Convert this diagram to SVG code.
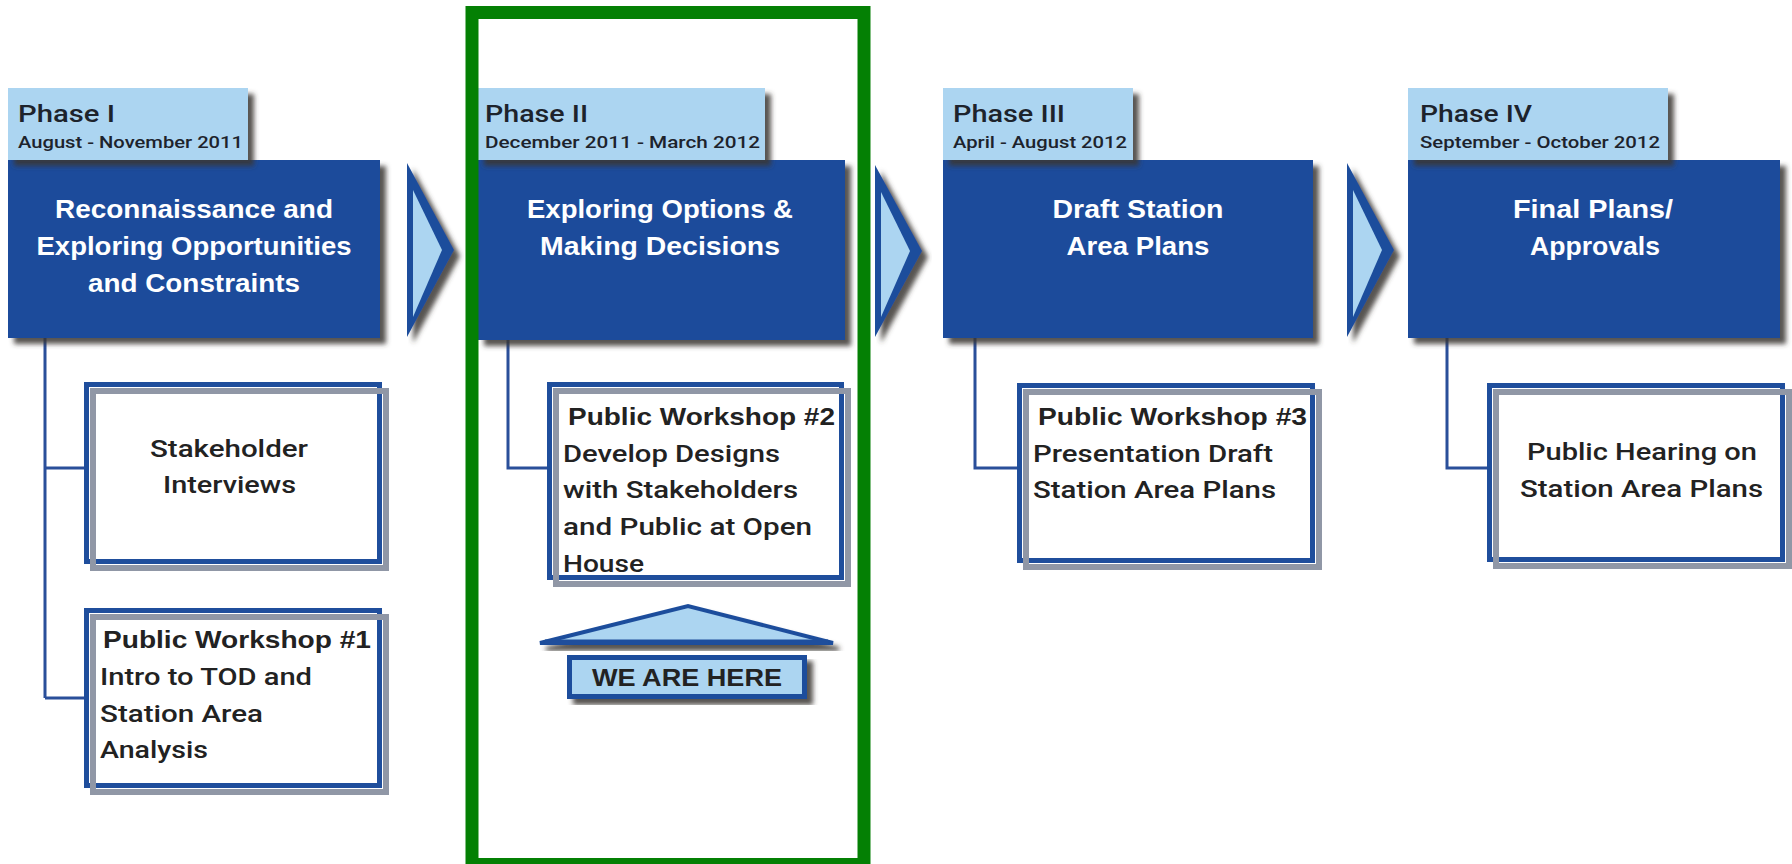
<svg xmlns="http://www.w3.org/2000/svg" width="1792" height="864" viewBox="0 0 1792 864">
<defs>
<filter id="sh" x="-10%" y="-10%" width="130%" height="130%">
<feGaussianBlur in="SourceAlpha" stdDeviation="2.5"/>
<feOffset dx="6" dy="6" result="b"/>
<feFlood flood-color="#3a3632" flood-opacity="0.85"/>
<feComposite in2="b" operator="in"/>
<feMerge><feMergeNode/><feMergeNode in="SourceGraphic"/></feMerge>
</filter>
<style>
.lab{fill:#acd5f1}
.main{fill:#1f4b9b}
.ph{font-family:Roboto,"Liberation Sans",sans-serif;font-weight:500;font-size:23px;fill:#1d232c}
.dt{font-family:Roboto,"Liberation Sans",sans-serif;font-weight:500;font-size:16px;fill:#1d232c}
.tt{font-family:"Liberation Sans",Arial,sans-serif;font-weight:bold;font-size:26px;fill:#ffffff;text-anchor:middle}
.bx{fill:#ffffff;stroke:#1f4e9c;stroke-width:5}
.gs{fill:none;stroke:#9097a6;stroke-width:6}
.st{font-family:Roboto,"Liberation Sans",sans-serif;font-weight:500;font-size:24px;fill:#222222}
.sb{font-family:"Liberation Sans",Arial,sans-serif;font-weight:bold;font-size:24px;fill:#222222}
.chO{fill:#1f4e9c}
.chI{fill:#acd5f1}
.con{fill:none;stroke:#2a4f9a;stroke-width:3}
</style>
</defs>
<rect width="1792" height="864" fill="#ffffff"/>

<g id="connectors">
<path class="con" d="M45,338 V698 M45,468 H86 M45,698 H86"/>
<path class="con" d="M508,340 V468 H549"/>
<path class="con" d="M975,338 V468 H1019"/>
<path class="con" d="M1447,338 V468 H1489"/>
</g>

<g id="phase1">
<rect class="main" x="8" y="160" width="372" height="178" filter="url(#sh)"/>
<rect class="lab" x="8" y="88" width="240" height="72" filter="url(#sh)"/>
<text class="ph" x="18" y="122" textLength="97" lengthAdjust="spacingAndGlyphs">Phase I</text>
<text class="dt" x="18" y="148" textLength="225" lengthAdjust="spacingAndGlyphs">August - November 2011</text>
<text class="tt" x="194" y="218" textLength="278" lengthAdjust="spacingAndGlyphs">Reconnaissance and</text>
<text class="tt" x="194" y="255" textLength="315" lengthAdjust="spacingAndGlyphs">Exploring Opportunities</text>
<text class="tt" x="194" y="292" textLength="212" lengthAdjust="spacingAndGlyphs">and Constraints</text>
</g>

<g id="arrow1">
<polygon class="chO" points="407,163 454,250 407,337" filter="url(#sh)"/>
<polygon class="chI" points="413,190 442,250 413,317"/>
</g>

<g id="phase2">
<rect class="main" x="478" y="160" width="367" height="180" filter="url(#sh)"/>
<rect class="lab" x="478" y="88" width="287" height="72" filter="url(#sh)"/>
<text class="ph" x="485" y="122" textLength="103" lengthAdjust="spacingAndGlyphs">Phase II</text>
<text class="dt" x="485" y="148" textLength="275" lengthAdjust="spacingAndGlyphs">December 2011 - March 2012</text>
<text class="tt" x="660" y="218" textLength="266" lengthAdjust="spacingAndGlyphs">Exploring Options &amp;</text>
<text class="tt" x="660" y="255" textLength="240" lengthAdjust="spacingAndGlyphs">Making Decisions</text>
</g>

<g id="arrow2">
<polygon class="chO" points="875,165 922,251 875,337" filter="url(#sh)"/>
<polygon class="chI" points="881,192 910,251 881,317"/>
</g>

<g id="phase3">
<rect class="main" x="943" y="160" width="370" height="178" filter="url(#sh)"/>
<rect class="lab" x="943" y="88" width="190" height="72" filter="url(#sh)"/>
<text class="ph" x="953" y="122" textLength="112" lengthAdjust="spacingAndGlyphs">Phase III</text>
<text class="dt" x="953" y="148" textLength="174" lengthAdjust="spacingAndGlyphs">April - August 2012</text>
<text class="tt" x="1138" y="218" textLength="171" lengthAdjust="spacingAndGlyphs">Draft Station</text>
<text class="tt" x="1138" y="255" textLength="143" lengthAdjust="spacingAndGlyphs">Area Plans</text>
</g>

<g id="arrow3">
<polygon class="chO" points="1347,163 1394,250 1347,337" filter="url(#sh)"/>
<polygon class="chI" points="1353,190 1382,250 1353,317"/>
</g>

<g id="phase4">
<rect class="main" x="1408" y="160" width="372" height="178" filter="url(#sh)"/>
<rect class="lab" x="1408" y="88" width="260" height="72" filter="url(#sh)"/>
<text class="ph" x="1420" y="122" textLength="112" lengthAdjust="spacingAndGlyphs">Phase IV</text>
<text class="dt" x="1420" y="148" textLength="240" lengthAdjust="spacingAndGlyphs">September - October 2012</text>
<text class="tt" x="1593" y="218" textLength="160" lengthAdjust="spacingAndGlyphs">Final Plans/</text>
<text class="tt" x="1595" y="255" textLength="130" lengthAdjust="spacingAndGlyphs">Approvals</text>
</g>

<g id="stakeholder">
<rect class="bx" x="86.5" y="384.5" width="293" height="177"/>
<rect class="gs" x="93" y="391" width="293" height="177"/>
<text class="st" x="150" y="457" textLength="158" lengthAdjust="spacingAndGlyphs">Stakeholder</text>
<text class="st" x="163" y="493" textLength="133" lengthAdjust="spacingAndGlyphs">Interviews</text>
</g>

<g id="workshop1">
<rect class="bx" x="86.5" y="610.5" width="293" height="175"/>
<rect class="gs" x="93" y="617" width="293" height="175"/>
<text class="sb" x="103" y="648" textLength="268" lengthAdjust="spacingAndGlyphs">Public Workshop #1</text>
<text class="st" x="100" y="685" textLength="212" lengthAdjust="spacingAndGlyphs">Intro to TOD and</text>
<text class="st" x="100" y="722" textLength="163" lengthAdjust="spacingAndGlyphs">Station Area</text>
<text class="st" x="100" y="758" textLength="108" lengthAdjust="spacingAndGlyphs">Analysis</text>
</g>

<g id="workshop2">
<rect class="bx" x="549.5" y="384.5" width="292" height="193"/>
<rect class="gs" x="556" y="391" width="292" height="193"/>
<text class="sb" x="568" y="425" textLength="267" lengthAdjust="spacingAndGlyphs">Public Workshop #2</text>
<text class="st" x="563" y="462" textLength="217" lengthAdjust="spacingAndGlyphs">Develop Designs</text>
<text class="st" x="563" y="498" textLength="235" lengthAdjust="spacingAndGlyphs">with Stakeholders</text>
<text class="st" x="563" y="535" textLength="249" lengthAdjust="spacingAndGlyphs">and Public at Open</text>
<text class="st" x="563" y="572" textLength="81" lengthAdjust="spacingAndGlyphs">House</text>
</g>

<g id="workshop3">
<rect class="bx" x="1019.5" y="385.5" width="293" height="175"/>
<rect class="gs" x="1026" y="392" width="293" height="175"/>
<text class="sb" x="1038" y="425" textLength="269" lengthAdjust="spacingAndGlyphs">Public Workshop #3</text>
<text class="st" x="1033" y="462" textLength="240" lengthAdjust="spacingAndGlyphs">Presentation Draft</text>
<text class="st" x="1033" y="498" textLength="243" lengthAdjust="spacingAndGlyphs">Station Area Plans</text>
</g>

<g id="hearing">
<rect class="bx" x="1489.5" y="385.5" width="293" height="174"/>
<rect class="gs" x="1496" y="392" width="293" height="174"/>
<text class="st" x="1527" y="460" textLength="230" lengthAdjust="spacingAndGlyphs">Public Hearing on</text>
<text class="st" x="1520" y="497" textLength="243" lengthAdjust="spacingAndGlyphs">Station Area Plans</text>
</g>

<g id="we-are-here">
<polygon points="540,643 688,606 833,643" fill="#acd5f1" stroke="#1f4e9c" stroke-width="4" stroke-linejoin="miter" filter="url(#sh)"/>
<line x1="545" y1="642" x2="828" y2="642" stroke="#1f4e9c" stroke-width="5"/>
<rect x="569.5" y="657.5" width="235" height="39" fill="#acd5f1" stroke="#1f4e9c" stroke-width="5" filter="url(#sh)"/>
<text class="sb" x="592" y="686" font-size="26" textLength="190" lengthAdjust="spacingAndGlyphs" fill="#1d2a3a">WE ARE HERE</text>
</g>

<g id="highlight">
<rect x="472" y="12.5" width="392" height="852" fill="none" stroke="#048004" stroke-width="13"/>
</g>
</svg>
